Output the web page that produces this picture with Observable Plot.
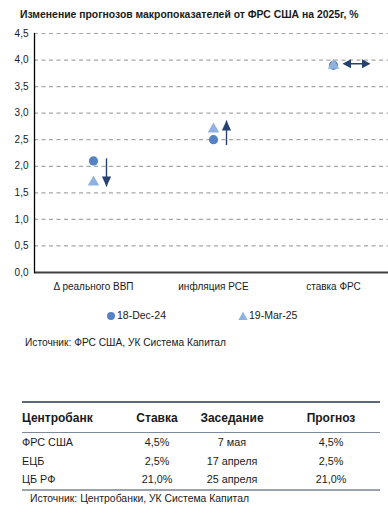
<!DOCTYPE html>
<html>
<head>
<meta charset="utf-8">
<script src="https://cdn.jsdelivr.net/npm/d3@7"></script>
<script src="https://cdn.jsdelivr.net/npm/@observablehq/plot@0.6"></script>
<style>
  html, body { margin: 0; padding: 0; background: #fff; }
  body { width: 388px; height: 513px; position: relative; overflow: hidden;
         font-family: "Liberation Sans", Arial, sans-serif; color: #1a1a1a; }
  .abs { position: absolute; white-space: nowrap; }
  #title { left: 20px; top: 9px; font-size: 10.4px; font-weight: bold; }
  #chart { position: absolute; left: 0; top: 0; }
  #legend { top: 309px; font-size: 10.5px; }
  #src1 { left: 25px; top: 337px; font-size: 10.2px; }
  #src2 { left: 30px; top: 493px; font-size: 10.4px; }
  table { position: absolute; left: 22px; top: 401px; width: 358px; border-collapse: collapse;
          table-layout: fixed; font-size: 10.8px; }
  thead th { font-size: 12px; font-weight: bold; height: 29px; padding: 0;
             border-top: 2px solid #5d6878; border-bottom: 1.5px solid #7d8a9b; }
  tbody td { height: 18.5px; padding: 0; }
  tbody tr:last-child td { border-bottom: 2.5px solid #9aa3ad; }
  .c1 { text-align: left; }
  .c2, .c3, .c4 { text-align: center; }
  .c4 { padding-left: 12px !important; }
</style>
</head>
<body>
<div id="title" class="abs"></div>
<div id="chart"></div>
<div id="legend" class="abs"></div>
<div id="src1" class="abs"></div>
<table id="tbl"><colgroup><col style="width:98px"><col style="width:74px"><col style="width:76px"><col style="width:110px"></colgroup><thead></thead><tbody></tbody></table>
<div id="src2" class="abs"></div>
<script>
// ---- data ----
const titleText = "Изменение прогнозов макропоказателей от ФРС США на 2025г, %";
const categories = ["Δ реального ВВП", "инфляция PCE", "ставка ФРС"];
const seriesNames = ["18-Dec-24", "19-Mar-25"];
const dec24 = [2.1, 2.5, 3.9];
const mar25 = [1.7, 2.7, 3.9];
const yTicks = [0, 0.5, 1, 1.5, 2, 2.5, 3, 3.5, 4, 4.5];
// change arrows (vertical for first two categories, horizontal "no change" for the third)
const arrowCats = ["Δ реального ВВП", "инфляция PCE"];
const arrowFrom = [2.15, 2.4];
const arrowTo = [1.62, 2.86];
const flatCats = ["ставка ФРС"];
const flatLevel = [3.93];
const source1 = "Источник: ФРС США, УК Система Капитал";

const tableHeader = ["Центробанк", "Ставка", "Заседание", "Прогноз"];
const banks = ["ФРС США", "ЕЦБ", "ЦБ РФ"];
const rates = ["4,5%", "2,5%", "21,0%"];
const meetings = ["7 мая", "17 апреля", "25 апреля"];
const forecasts = ["4,5%", "2,5%", "21,0%"];
const source2 = "Источник: Центробанки, УК Система Капитал";

// ---- styles ----
const cDec = "#5582c2";
const cMar = "#8fb3e1";
const cArrow = "#26416f";

const pts = categories.flatMap((c, i) => [
  {cat: c, v: dec24[i], s: seriesNames[0]},
  {cat: c, v: mar25[i], s: seriesNames[1]}
]);
const arrows = arrowCats.map((c, i) => ({cat: c, from: arrowFrom[i], to: arrowTo[i]}));
const flats = flatCats.map((c, i) => ({cat: c, v: flatLevel[i]}));

const headUp = { draw(ctx) { ctx.moveTo(0, 0); ctx.lineTo(4.6, 10); ctx.lineTo(-4.6, 10); ctx.closePath(); } };
const doubleArrow = { draw(ctx) {
  ctx.moveTo(-14, 0); ctx.lineTo(-5.5, -4.6); ctx.lineTo(-5.5, -0.8); ctx.lineTo(5.5, -0.8);
  ctx.lineTo(5.5, -4.6); ctx.lineTo(14, 0); ctx.lineTo(5.5, 4.6); ctx.lineTo(5.5, 0.8);
  ctx.lineTo(-5.5, 0.8); ctx.lineTo(-5.5, 4.6); ctx.closePath(); } };

const fmt = d => d.toFixed(1).replace(".", ",");

const chart = Plot.plot({
  width: 388,
  height: 300,
  marginTop: 33,
  marginBottom: 28,
  marginLeft: 34,
  marginRight: 0,
  style: {fontFamily: "Liberation Sans, Arial, sans-serif", fontSize: "10px", color: "#1a1a1a"},
  x: {type: "point", domain: categories, range: [93, 333], padding: 0},
  y: {domain: [0, 4.5]},
  marks: [
    Plot.ruleY(yTicks.filter(d => d > 0), {stroke: "#a6a6a6", strokeWidth: 1.2, strokeDasharray: "4,3.5"}),
    Plot.axisY({ticks: yTicks, tickSize: 0, tickPadding: 6, tickFormat: fmt, fontSize: 10}),
    Plot.axisX({tickSize: 0, tickPadding: 10, fontSize: 10, label: null}),
    Plot.ruleY([0], {stroke: "#404040", strokeWidth: 1.8}),
    Plot.frame({anchor: "left", stroke: "#000", strokeWidth: 1.3}),
    Plot.dot(pts.filter(d => d.s === seriesNames[0]), {x: "cat", y: "v", symbol: "circle", r: 4.6, fill: cDec}),
    Plot.dot(pts.filter(d => d.s === seriesNames[1]), {x: "cat", y: "v", symbol: "triangle", r: 4.3, fill: cMar}),
    Plot.link(arrows, {x1: "cat", x2: "cat", y1: "from", y2: "to", dx: 13, stroke: cArrow, strokeWidth: 1.4}),
    Plot.dot(arrows, {x: "cat", y: "to", dx: 13, symbol: headUp, r: 4, fill: cArrow,
                      rotate: d => d.to < d.from ? 180 : 0}),
    Plot.dot(flats, {x: "cat", y: "v", dx: 23, symbol: doubleArrow, r: 4, fill: cArrow})
  ]
});
document.getElementById("chart").appendChild(chart);

document.getElementById("title").textContent = titleText;

// legend
const leg = document.getElementById("legend");
leg.style.left = "0px"; leg.style.width = "388px";
leg.innerHTML =
  `<span style="position:absolute;left:106px;top:2px"><svg width="10" height="10"><circle cx="5" cy="5" r="4" fill="${cDec}"/></svg></span>` +
  `<span style="position:absolute;left:117px;top:0px" id="l1"></span>` +
  `<span style="position:absolute;left:238px;top:2px"><svg width="10" height="10"><path d="M5,0.8 L9.6,9 L0.4,9 Z" fill="${cMar}"/></svg></span>` +
  `<span style="position:absolute;left:249px;top:0px" id="l2"></span>`;
document.getElementById("l1").textContent = seriesNames[0];
document.getElementById("l2").textContent = seriesNames[1];

document.getElementById("src1").textContent = source1;
document.getElementById("src2").textContent = source2;

// table
const thead = document.querySelector("#tbl thead");
const trh = document.createElement("tr");
tableHeader.forEach((h, i) => { const th = document.createElement("th"); th.className = "c" + (i + 1); th.textContent = h; trh.appendChild(th); });
thead.appendChild(trh);
const tbody = document.querySelector("#tbl tbody");
banks.forEach((b, i) => {
  const tr = document.createElement("tr");
  [b, rates[i], meetings[i], forecasts[i]].forEach((v, j) => {
    const td = document.createElement("td"); td.className = "c" + (j + 1); td.textContent = v; tr.appendChild(td);
  });
  tbody.appendChild(tr);
});
</script>
</body>
</html>
